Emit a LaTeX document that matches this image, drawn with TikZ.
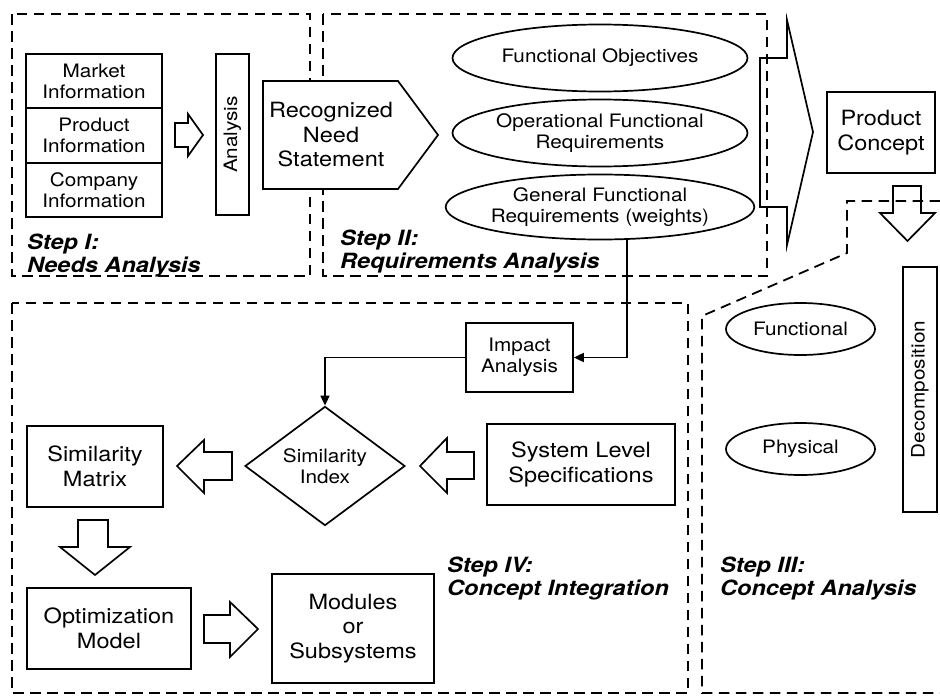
\documentclass[tikz,border=0pt]{standalone}
\usepackage{fontspec}
\setmainfont[FakeStretch=1.12]{TeX Gyre Heros}
\usetikzlibrary{shapes.geometric,arrows.meta}

\begin{document}
\begin{tikzpicture}[x=1pt,y=-1pt,
  box/.style={draw, line width=1.7pt, inner sep=0pt, align=center},
  oval/.style={draw, ellipse, line width=1.7pt, inner sep=0pt, align=center},
  rhomb/.style={draw, diamond, line width=1.7pt, inner sep=0pt, align=center},
  region/.style={line width=1.8pt, dash pattern=on 10.5pt off 6.5pt},
  blk/.style={line width=1.7pt, line join=miter},
  link/.style={line width=1.7pt, -{Triangle[length=10pt,width=9pt]}},
  small/.style={font=\fontsize{18.5}{21}\selectfont},
  large/.style={font=\fontsize{21}{24.5}\selectfont},
  steplabel/.style={anchor=north west, inner sep=0pt, align=left,
    font=\fontsize{21}{23}\selectfont\bfseries\itshape},
]
\useasboundingbox (0,0) rectangle (940,696);
\fill[white] (0,0) rectangle (940,696);

% ---------- dashed step regions ----------
\draw[region] (12,14) rectangle (310,276);
\draw[region] (323,14) rectangle (767,276);
\draw[region] (12,303) rectangle (688,693);
\draw[region] (940,201) -- (847,201) -- (847,253) -- (702,316) -- (702,693) -- (940,693);

% ---------- Step I: needs analysis ----------
\node[box,small,minimum width=136pt,minimum height=54pt] (market) at (94,81) {Market\\Information};
\node[box,small,minimum width=136pt,minimum height=55pt] (product) at (94,135.5) {Product\\Information};
\node[box,small,minimum width=136pt,minimum height=54pt] (company) at (94,190) {Company\\Information};
\draw[blk] (175,123) -- (188,123) -- (188,114) -- (203,135) -- (188,156) -- (188,147) -- (175,147) -- cycle;
\node[box,small,rotate=90,minimum width=161pt,minimum height=33pt] (analysis) at (232.5,134.5) {Analysis};
% the need statement plate covers the dashed borders behind it
\draw[blk, fill=white] (263,81) -- (398,81) -- (438,135) -- (398,189) -- (263,189) -- cycle;
\node[large,align=center,inner sep=0pt] (need) at (331,135) {Recognized\\Need\\Statement};
\node[steplabel] (s1) at (27,234) {Step I:\\Needs Analysis};

% ---------- Step II: requirements analysis ----------
\node[oval,small,minimum width=295pt,minimum height=67pt] (fobj) at (600,58) {Functional Objectives};
\node[oval,small,minimum width=295pt,minimum height=67pt] (oreq) at (600,133) {Operational Functional\\Requirements};
\node[oval,small,minimum width=295pt,minimum height=65pt] (greq) at (600,207) {General Functional\\Requirements (weights)};
\node[steplabel] (s2) at (340,230) {Step II:\\Requirements Analysis};

% big arrow into the product concept
\draw[blk] (760,58) -- (787,58) -- (787,20) -- (813,132) -- (787,245) -- (787,207) -- (760,207) -- cycle;
\node[box,large,minimum width=108pt,minimum height=81pt] (concept) at (881,132.5) {Product\\Concept};
\draw[blk] (893,186) -- (921,186) -- (921,213) -- (935,213) -- (907.5,241) -- (880,213) -- (893,213) -- cycle;

% ---------- Step III: concept analysis ----------
\node[oval,small,minimum width=149pt,minimum height=52pt] (func) at (800.5,329) {Functional};
\node[oval,small,minimum width=149pt,minimum height=52pt] (phys) at (800.5,449) {Physical};
\node[box,small,rotate=90,minimum width=245pt,minimum height=34pt] (decomp) at (920,389.5) {Decomposition};
\node[steplabel] (s3) at (720,557) {Step III:\\Concept Analysis};

% ---------- Step IV: concept integration ----------
\node[box,small,minimum width=107pt,minimum height=69pt] (impact) at (519.5,357.5) {Impact\\Analysis};
\node[rhomb,small,minimum width=160pt,minimum height=108pt] (simidx) at (325,466) {Similarity\\Index};
\node[box,large,minimum width=136pt,minimum height=81pt] (simmat) at (95,466.5) {Similarity\\Matrix};
\node[box,large,minimum width=188pt,minimum height=81pt] (sysspec) at (581,464.5) {System Level\\Specifications};
\node[box,large,minimum width=164pt,minimum height=81pt] (optim) at (109,628.5) {Optimization\\Model};
\node[box,large,minimum width=162pt,minimum height=109pt] (modules) at (353,628.5) {Modules\\or\\Subsystems};
\node[steplabel] (s4) at (447,557) {Step IV:\\Concept Integration};

\draw[blk] (232,452) -- (204,452) -- (204,440) -- (177,466) -- (204,493) -- (204,480) -- (232,480) -- cycle;
\draw[blk] (474,452) -- (447,452) -- (447,438) -- (420,466) -- (447,493) -- (447,479) -- (474,479) -- cycle;
\draw[blk] (78,520) -- (108,520) -- (108,547) -- (130,547) -- (95,575) -- (60,547) -- (78,547) -- cycle;
\draw[blk] (204,615) -- (230,615) -- (230,602) -- (258,629) -- (230,657) -- (230,643) -- (204,643) -- cycle;

% ---------- connectors ----------
\coordinate (bend) at (627,357.5);
\draw[link] (greq.south -| bend) -- (bend) -- (impact.east);
\draw[link] (impact.west) -| (simidx.north);
\end{tikzpicture}
\end{document}
